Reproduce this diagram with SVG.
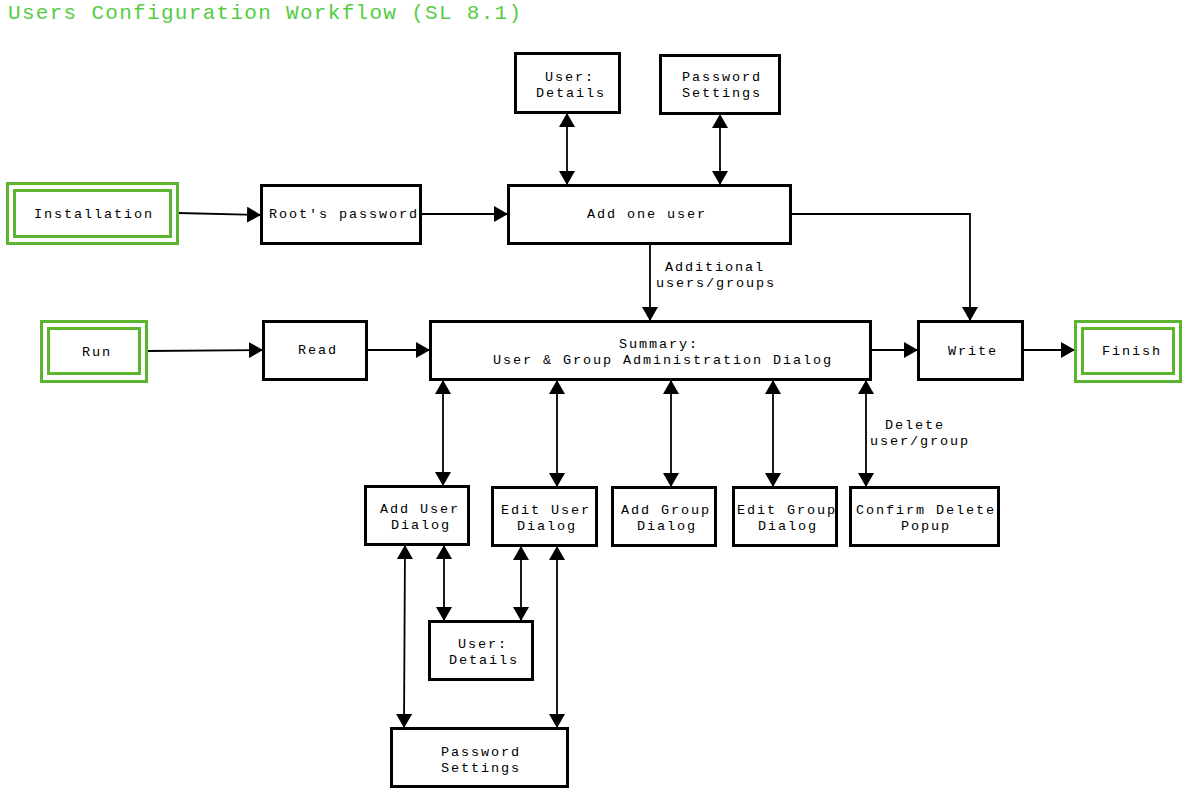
<svg xmlns="http://www.w3.org/2000/svg" width="1182" height="789" viewBox="0 0 1182 789">
<style>
.box{fill:#fff;stroke:#000;stroke-width:3}
.go{fill:none;stroke:#5db52f;stroke-width:3}
.t{font-family:"Liberation Mono","Courier New",monospace;font-size:13.5px;letter-spacing:1.9px;fill:#000;text-anchor:middle}
.title{font-family:"Liberation Mono","Courier New",monospace;font-size:21px;letter-spacing:1.3px;fill:#55cc44}
.c{fill:none;stroke:#000;stroke-width:1.8}
</style>
<defs>
<marker id="ah" markerUnits="userSpaceOnUse" markerWidth="15" markerHeight="16" refX="14" refY="8" orient="auto-start-reverse" viewBox="0 0 15 16">
<path d="M0,0 L14,8 L0,16 z" fill="#000"/>
</marker>
</defs>
<rect width="1182" height="789" fill="#fff"/>
<text class="title" x="8" y="19">Users Configuration Workflow (SL 8.1)</text>

<g id="connectors">
<path class="c" d="M178,213 L261,215" marker-end="url(#ah)"/>
<path class="c" d="M421,214 L508,214" marker-end="url(#ah)"/>
<path class="c" d="M567,113 L567,185" marker-start="url(#ah)" marker-end="url(#ah)"/>
<path class="c" d="M720,114 L720,185" marker-start="url(#ah)" marker-end="url(#ah)"/>
<path class="c" d="M791,214 L970,214 L970,321" marker-end="url(#ah)"/>
<path class="c" d="M650,244 L650,321" marker-end="url(#ah)"/>
<path class="c" d="M147,351 L263,350" marker-end="url(#ah)"/>
<path class="c" d="M367,350 L430,350" marker-end="url(#ah)"/>
<path class="c" d="M871,350 L918,350" marker-end="url(#ah)"/>
<path class="c" d="M1023,350 L1075,350" marker-end="url(#ah)"/>
<path class="c" d="M443,380 L443,486" marker-start="url(#ah)" marker-end="url(#ah)"/>
<path class="c" d="M557,380 L557,487" marker-start="url(#ah)" marker-end="url(#ah)"/>
<path class="c" d="M671,380 L671,487" marker-start="url(#ah)" marker-end="url(#ah)"/>
<path class="c" d="M773,380 L773,487" marker-start="url(#ah)" marker-end="url(#ah)"/>
<path class="c" d="M866,380 L866,487" marker-start="url(#ah)" marker-end="url(#ah)"/>
<path class="c" d="M444,545 L444,621" marker-start="url(#ah)" marker-end="url(#ah)"/>
<path class="c" d="M521,546 L521,621" marker-start="url(#ah)" marker-end="url(#ah)"/>
<path class="c" d="M405,545 L404,728" marker-start="url(#ah)" marker-end="url(#ah)"/>
<path class="c" d="M557,546 L557,728" marker-start="url(#ah)" marker-end="url(#ah)"/>
<text class="t" x="715" y="271">Additional</text>
<text class="t" x="716" y="287">users/groups</text>
<text class="t" x="915" y="429">Delete</text>
<text class="t" x="920" y="445">user/group</text>
</g>

<g id="installation">
<rect class="go" x="7.5" y="183.5" width="170" height="60"/>
<rect class="go" x="14.5" y="190.5" width="156" height="46"/>
<text class="t" x="94" y="218">Installation</text>
</g>
<g id="roots-password">
<rect class="box" x="261.5" y="185.5" width="159" height="58"/>
<text class="t" x="344" y="218">Root's password</text>
</g>
<g id="add-one-user">
<rect class="box" x="508.5" y="185.5" width="282" height="58"/>
<text class="t" x="647" y="218">Add one user</text>
</g>
<g id="user-details-top">
<rect class="box" x="515.5" y="53.5" width="104" height="59"/>
<text class="t" x="570" y="81">User:</text>
<text class="t" x="571" y="97">Details</text>
</g>
<g id="password-settings-top">
<rect class="box" x="660.5" y="55.5" width="119" height="58"/>
<text class="t" x="722" y="81">Password</text>
<text class="t" x="722" y="97">Settings</text>
</g>
<g id="run">
<rect class="go" x="41.5" y="321.5" width="105" height="60"/>
<rect class="go" x="48.5" y="328.5" width="91" height="45"/>
<text class="t" x="97" y="356">Run</text>
</g>
<g id="read">
<rect class="box" x="263.5" y="321.5" width="103" height="58"/>
<text class="t" x="318" y="354">Read</text>
</g>
<g id="summary">
<rect class="box" x="430.5" y="321.5" width="440" height="58"/>
<text class="t" x="659" y="348">Summary:</text>
<text class="t" x="663" y="364">User &amp; Group Administration Dialog</text>
</g>
<g id="write">
<rect class="box" x="918.5" y="321.5" width="104" height="58"/>
<text class="t" x="973" y="355">Write</text>
</g>
<g id="finish">
<rect class="go" x="1075.5" y="321.5" width="105" height="60"/>
<rect class="go" x="1082.5" y="328.5" width="91" height="45"/>
<text class="t" x="1132" y="355">Finish</text>
</g>
<g id="add-user-dialog">
<rect class="box" x="365.5" y="486.5" width="103" height="58"/>
<text class="t" x="420" y="513">Add User</text>
<text class="t" x="421" y="529">Dialog</text>
</g>
<g id="edit-user-dialog">
<rect class="box" x="492.5" y="487.5" width="104" height="58"/>
<text class="t" x="546" y="514">Edit User</text>
<text class="t" x="547" y="530">Dialog</text>
</g>
<g id="add-group-dialog">
<rect class="box" x="612.5" y="487.5" width="103" height="58"/>
<text class="t" x="666" y="514">Add Group</text>
<text class="t" x="667" y="530">Dialog</text>
</g>
<g id="edit-group-dialog">
<rect class="box" x="733.5" y="487.5" width="103" height="58"/>
<text class="t" x="787" y="514">Edit Group</text>
<text class="t" x="788" y="530">Dialog</text>
</g>
<g id="confirm-delete-popup">
<rect class="box" x="850.5" y="487.5" width="148" height="58"/>
<text class="t" x="926" y="514">Confirm Delete</text>
<text class="t" x="926" y="530">Popup</text>
</g>
<g id="user-details-bottom">
<rect class="box" x="429.5" y="621.5" width="103" height="58"/>
<text class="t" x="483" y="648">User:</text>
<text class="t" x="484" y="664">Details</text>
</g>
<g id="password-settings-bottom">
<rect class="box" x="391.5" y="728.5" width="176" height="58"/>
<text class="t" x="481" y="756">Password</text>
<text class="t" x="481" y="772">Settings</text>
</g>
</svg>
